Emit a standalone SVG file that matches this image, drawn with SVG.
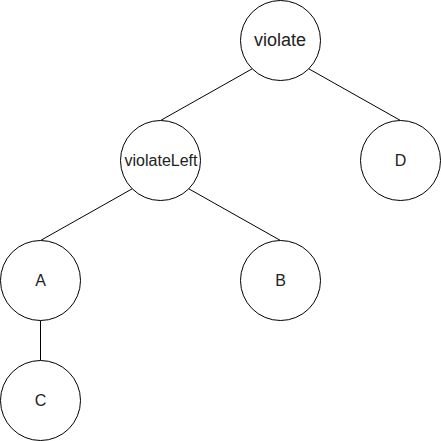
<svg xmlns="http://www.w3.org/2000/svg" width="441" height="441" viewBox="0 0 441 441">
<style>
.n circle{fill:#fff;stroke:#000;stroke-width:1}
.n text{font-family:"Liberation Sans",Arial,sans-serif;font-size:16px;fill:#222;text-anchor:middle}
#edges line{stroke:#000;stroke-width:1}
</style>
<rect width="441" height="441" fill="#fff"/>
<g id="edges">
<line x1="252.2" y1="68.8" x2="160.5" y2="120.5"/>
<line x1="308.8" y1="68.8" x2="400.5" y2="120.5"/>
<line x1="132.2" y1="188.8" x2="40.5" y2="240.5"/>
<line x1="188.8" y1="188.8" x2="280.5" y2="240.5"/>
<line x1="40.5" y1="320.5" x2="40.5" y2="360.5"/>
</g>
<g id="violate" class="n"><circle cx="280.5" cy="40.5" r="40"/><text x="280" y="46" style="font-size:18px">violate</text></g>
<g id="violateLeft" class="n"><circle cx="160.5" cy="160.5" r="40"/><text x="161" y="166">violateLeft</text></g>
<g id="D" class="n"><circle cx="400.5" cy="160.5" r="40"/><text x="400.5" y="166">D</text></g>
<g id="A" class="n"><circle cx="40.5" cy="280.5" r="40"/><text x="40.5" y="286">A</text></g>
<g id="B" class="n"><circle cx="280.5" cy="280.5" r="40"/><text x="280.5" y="286">B</text></g>
<g id="C" class="n"><circle cx="40.5" cy="400.5" r="40"/><text x="40.5" y="406">C</text></g>
</svg>
